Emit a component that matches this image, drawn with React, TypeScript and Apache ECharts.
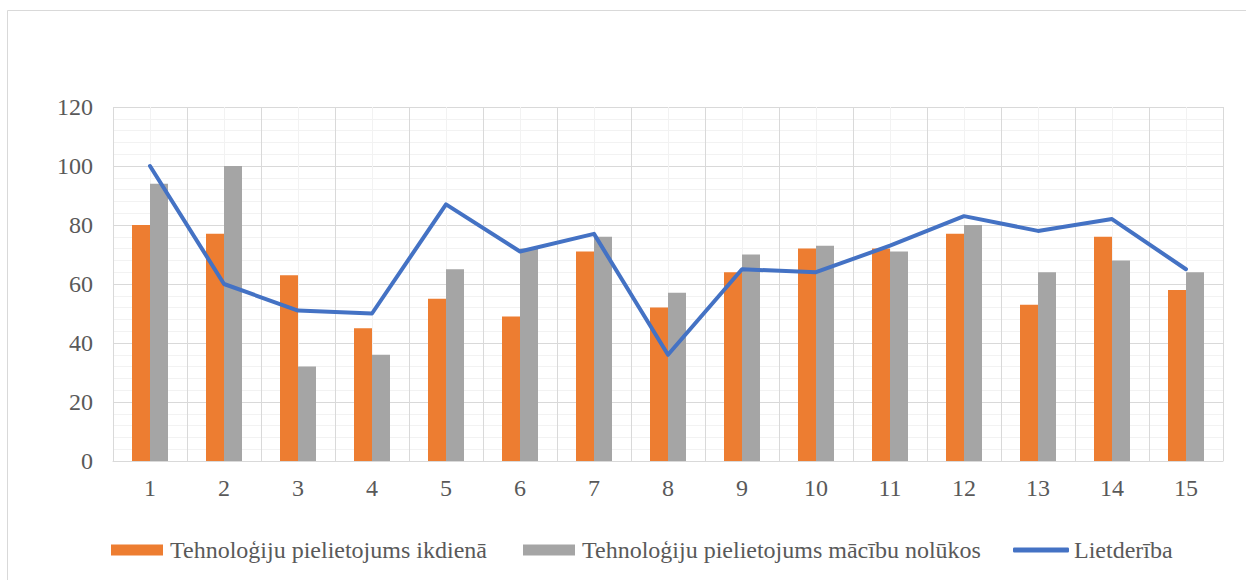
import React, { useEffect, useRef } from "react";
import * as echarts from "echarts";

const categories = ["1","2","3","4","5","6","7","8","9","10","11","12","13","14","15"];
const dailyUse = [80, 77, 63, 45, 55, 49, 71, 52, 64, 72, 72, 77, 53, 76, 58];
const studyUse = [94, 100, 32, 36, 65, 72, 76, 57, 70, 73, 71, 80, 64, 68, 64];
const usefulness = [100, 60, 51, 50, 87, 71, 77, 36, 65, 64, 73, 83, 78, 82, 65];
const seriesNames = [
  "Tehnoloģiju pielietojums ikdienā",
  "Tehnoloģiju pielietojums mācību nolūkos",
  "Lietderība",
];

const FONT = "Liberation Serif";
const TXT = "#595959";

export default function App() {
  const ref = useRef<HTMLDivElement>(null);
  useEffect(() => {
    document.body.style.margin = "0";
    const chart = echarts.init(ref.current!, null, { renderer: "svg" });
    const legendText = { color: TXT, fontSize: 24, fontFamily: FONT, padding: [0, 0, 0, 2] };
    chart.setOption({
      animation: false,
      backgroundColor: "#ffffff",
      textStyle: { fontFamily: FONT },
      graphic: [
        {
          type: "rect",
          shape: { x: 7.5, y: 10.5, width: 1250, height: 600 },
          style: { fill: "none", stroke: "#D9D9D9", lineWidth: 1 },
          silent: true,
        },
      ],
      grid: { left: 113, right: 23, top: 107, height: 354, containLabel: false },
      legend: [
        {
          data: [seriesNames[0]],
          left: 106,
          top: 533,
          itemWidth: 52,
          itemHeight: 11,
          textStyle: legendText,
          icon: "rect",
        },
        {
          data: [seriesNames[1]],
          left: 518,
          top: 533,
          itemWidth: 52,
          itemHeight: 11,
          textStyle: legendText,
          icon: "rect",
        },
        {
          data: [seriesNames[2]],
          left: 1008,
          top: 533,
          itemWidth: 56,
          itemHeight: 5,
          textStyle: { ...legendText, padding: [0, 0, 0, 0] },
          icon: "roundRect",
        },
      ],
      xAxis: [
        {
          type: "category",
          data: categories,
          axisLine: { show: true, lineStyle: { color: "#D9D9D9", width: 1 } },
          axisTick: { show: false },
          splitLine: { show: false },
          axisLabel: { color: TXT, fontSize: 24, fontFamily: FONT, margin: 15 },
          z: 3,
        },
        {
          type: "value",
          min: 0,
          max: 15,
          interval: 1,
          position: "top",
          axisLine: { show: false },
          axisTick: { show: false },
          axisLabel: { show: false },
          splitLine: { show: true, lineStyle: { color: "#D9D9D9", width: 1 } },
          minorTick: { show: false, splitNumber: 2 },
          minorSplitLine: { show: true, lineStyle: { color: "#F2F2F2", width: 1 } },
        },
      ],
      yAxis: {
        type: "value",
        min: 0,
        max: 120,
        interval: 20,
        axisLine: { show: false },
        axisTick: { show: false },
        axisLabel: { color: TXT, fontSize: 24, fontFamily: FONT, margin: 20 },
        splitLine: { show: true, lineStyle: { color: "#D9D9D9", width: 1 } },
        minorTick: { show: false, splitNumber: 5 },
        minorSplitLine: { show: true, lineStyle: { color: "#F2F2F2", width: 1 } },
      },
      series: [
        {
          name: seriesNames[0],
          type: "bar",
          data: dailyUse,
          barWidth: 18,
          barGap: "0%",
          itemStyle: { color: "#ED7D31" },
          xAxisIndex: 0,
        },
        {
          name: seriesNames[1],
          type: "bar",
          data: studyUse,
          barWidth: 18,
          barGap: "0%",
          itemStyle: { color: "#A5A5A5" },
          xAxisIndex: 0,
        },
        {
          name: seriesNames[2],
          type: "line",
          data: usefulness,
          symbol: "none",
          xAxisIndex: 0,
          itemStyle: { color: "#4472C4" },
          lineStyle: { color: "#4472C4", width: 4, join: "round", cap: "round" },
          z: 5,
        },
      ],
    });
    return () => chart.dispose();
  }, []);
  return <div ref={ref} style={{ width: 1246, height: 580 }} />;
}
